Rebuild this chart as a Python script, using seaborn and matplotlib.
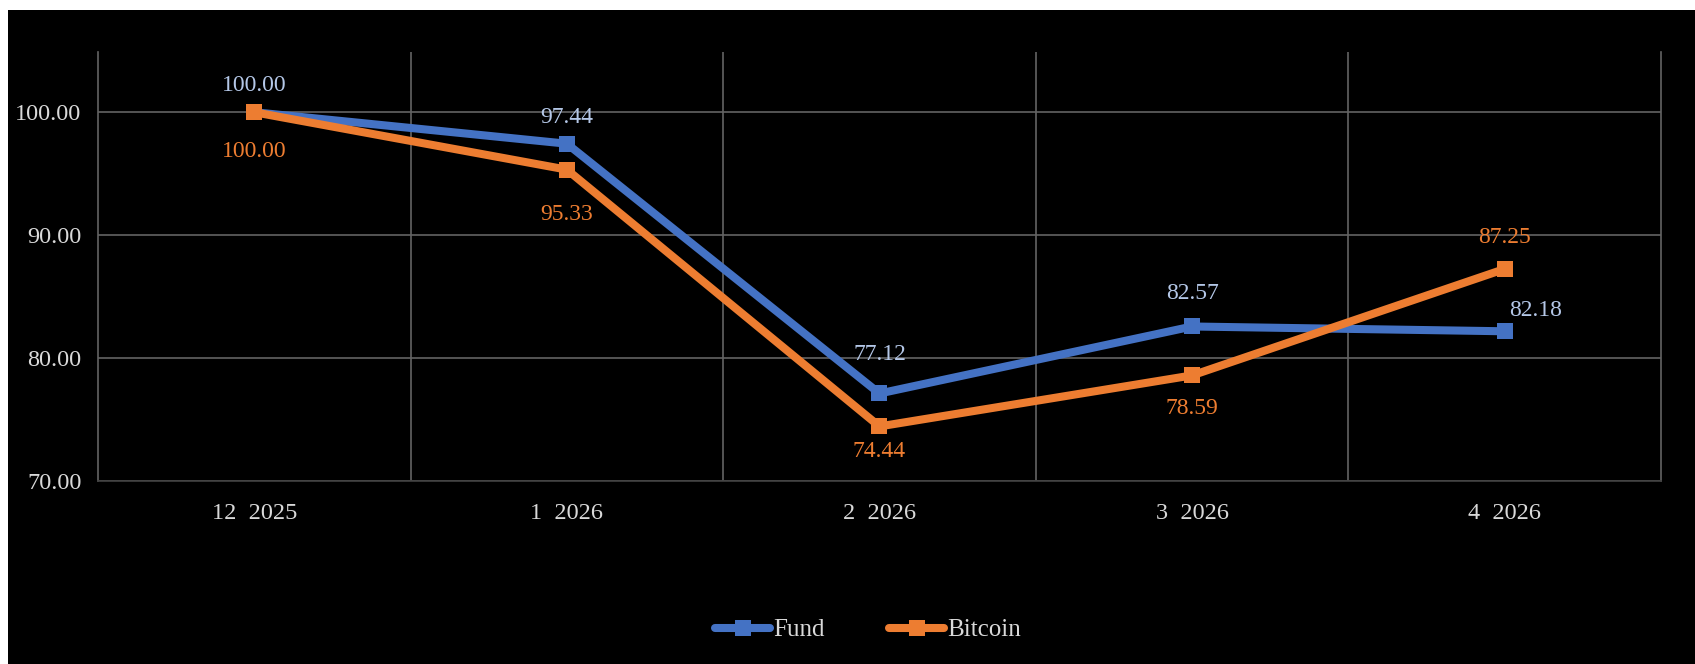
import matplotlib
matplotlib.use("Agg")
import matplotlib.pyplot as plt
import seaborn as sns
import pandas as pd
import numpy as np
from matplotlib.lines import Line2D

categories = ["12  2025", "1  2026", "2  2026", "3  2026", "4  2026"]
fund = [100.00, 97.44, 77.12, 82.57, 82.18]
bitcoin = [100.00, 95.33, 74.44, 78.59, 87.25]
y_ticks = [70, 80, 90, 100]

sns.set_style("dark")
plt.rcParams['font.family'] = ['Liberation Serif', 'DejaVu Serif']

df = pd.DataFrame({
    "x": list(range(len(categories))) * 2,
    "value": fund + bitcoin,
    "series": ["Fund"] * len(fund) + ["Bitcoin"] * len(bitcoin),
})

fig = plt.figure(figsize=(16.95, 6.64), dpi=100, facecolor="white")
bg = fig.add_axes([8 / 1695, 0, 1 - 8 / 1695, 1 - 10 / 664])
bg.set_facecolor("black")
bg.set_xticks([]); bg.set_yticks([])
for s in bg.spines.values():
    s.set_visible(False)

ax = fig.add_axes([98 / 1695, 1 - 481 / 664, (1661 - 98) / 1695, (481 - 52) / 664])
ax.set_facecolor("black")

palette = {"Fund": "#4472C4", "Bitcoin": "#ED7D31"}
sns.lineplot(data=df, x="x", y="value", hue="series", palette=palette,
             marker="s", markersize=12, linewidth=5.8, markeredgewidth=0,
             ax=ax, legend=False, solid_capstyle="round")

ax.set_xlim(-0.5, 4.5)
ax.set_ylim(70, 104.9)
ax.set_yticks(y_ticks)
ax.set_yticklabels([f"{v:.2f}" for v in y_ticks])
ax.set_xticks(range(len(categories)))
ax.set_xticklabels(categories)
ax.set_xticks(np.arange(0.5, 4.5, 1.0), minor=True)
ax.tick_params(axis="both", which="both", length=0, colors="#D9D9D9", labelsize=17.5)
ax.tick_params(axis="x", pad=16)
ax.tick_params(axis="y", pad=12)
ax.grid(False)
ax.yaxis.grid(True, which="major", color="#636363", linewidth=1.2)
ax.xaxis.grid(True, which="minor", color="#636363", linewidth=1.2)
ax.set_xlabel(""); ax.set_ylabel("")
ax.spines["top"].set_visible(False)
ax.spines["left"].set_color("#636363")
ax.spines["right"].set_color("#636363")
ax.spines["bottom"].set_color("#404040")
for s in ["left", "right", "bottom"]:
    ax.spines[s].set_linewidth(1.2)

fund_offsets = [(0, 19), (0, 19), (0, 28), (0, 24), (22, 15)]
btc_offsets = [(0, -28), (0, -32), (0, -18), (0, -24), (0, 23)]
for i, v in enumerate(fund):
    ax.annotate(f"{v:.2f}", (i, v), xytext=fund_offsets[i], textcoords="offset points",
                ha="center", va="center", color="#B4C7E7", fontsize=17)
for i, v in enumerate(bitcoin):
    ax.annotate(f"{v:.2f}", (i, v), xytext=btc_offsets[i], textcoords="offset points",
                ha="center", va="center", color="#ED7D31", fontsize=17)

handles = [Line2D([0], [0], color=palette[k], lw=5.8, marker="s", markersize=12,
                  markeredgewidth=0, solid_capstyle="round") for k in ["Fund", "Bitcoin"]]
leg = fig.legend(handles, ["Fund", "Bitcoin"], loc="center", bbox_to_anchor=(868 / 1695, 1 - 630 / 664),
                 ncol=2, frameon=False, fontsize=18, handlelength=2.2, handletextpad=0.1,
                 columnspacing=2.6, labelcolor="#D9D9D9")

fig.savefig("out.png", dpi=100, facecolor="white")
